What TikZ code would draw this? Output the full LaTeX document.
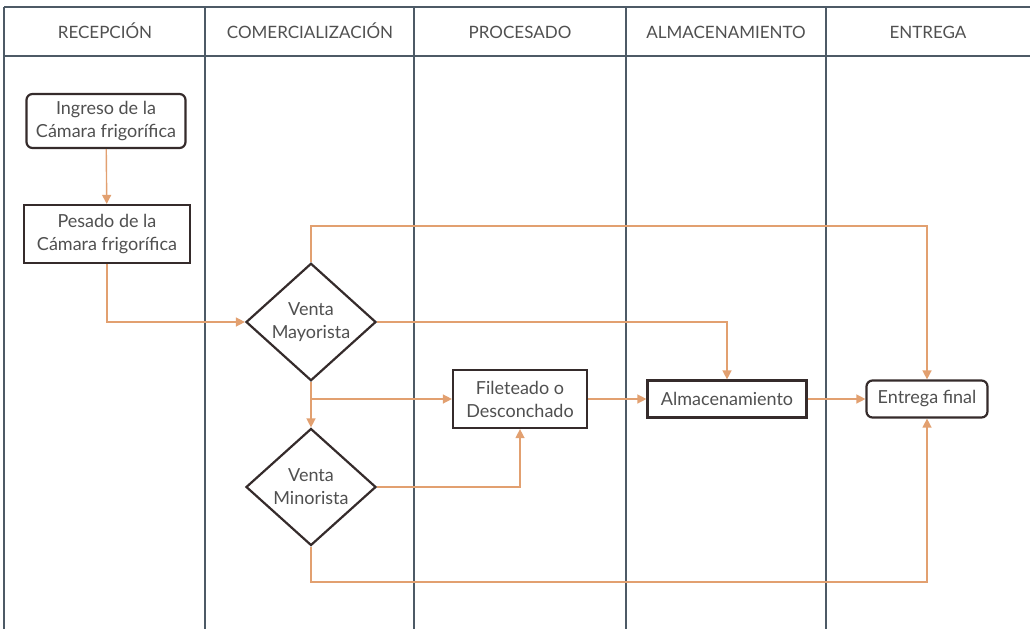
\documentclass[tikz,border=0pt]{standalone}
\usepackage{fontspec}
\setmainfont{Lato}
\usetikzlibrary{shapes.geometric,arrows.meta,positioning}
\definecolor{flowline}{HTML}{E2A070}
\definecolor{boxline}{HTML}{352B2B}
\definecolor{laneline}{HTML}{4D5A66}
\definecolor{labeltext}{HTML}{505050}
\tikzset{
  lane/.style={draw=laneline, line width=1.4pt},
  lanetitle/.style={text=labeltext, anchor=base, font=\fontsize{17}{20}\selectfont},
  process/.style={draw=boxline, line width=2.2pt, fill=white, align=center,
    text=labeltext, inner sep=0pt, font=\fontsize{18}{23}\selectfont},
  terminal/.style={process, rounded corners=6pt},
  decision/.style={process, diamond, minimum width=130pt, minimum height=117pt},
  flow/.style={draw=flowline, line width=1.4pt, -{Triangle[length=9pt,width=9pt]}}
}
\begin{document}
\begin{tikzpicture}[x=1pt, y=-1pt]
    \useasboundingbox (0,0) rectangle (1030,629);
    % draw the lanes
    \draw[lane] (4,7) -- (1030,7);
    \draw[lane] (4,56) -- (1030,56);
    \foreach \xlane in {4,205,414,626,826}
        \draw[lane] (\xlane,7) -- (\xlane,629);

    % the lane titles
    \node[lanetitle] (tRecep) at (105,38) {RECEPCIÓN};
    \node[lanetitle] (tComer) at (310,38) {COMERCIALIZACIÓN};
    \node[lanetitle] (tProc) at (520,38) {PROCESADO};
    \node[lanetitle] (tAlm) at (726,38) {ALMACENAMIENTO};
    \node[lanetitle] (tEnt) at (928,38) {ENTREGA};

    % the steps of the process
    \node[terminal, minimum width=159pt, minimum height=54pt] (ingreso) at (106,121)
        {Ingreso de la\\Cámara frigorífica};
    \node[process, minimum width=166pt, minimum height=58pt] (pesado) at (107,234)
        {Pesado de la\\Cámara frigorífica};
    \node[decision] (mayor) at (311,322) {Venta\\Mayorista};
    \node[decision] (minor) at (311,487) {Venta\\Minorista};
    \node[process, minimum width=134pt, minimum height=58pt] (filet) at (520,399)
        {Fileteado o\\Desconchado};
    \node[process, minimum width=159pt, minimum height=37pt] (almac) at (727,399)
        {Almacenamiento};
    \node[terminal, minimum width=121pt, minimum height=37pt] (entrega) at (927,399)
        {Entrega final};

    % points where the lines turn or split
    \coordinate (topbus) at (311,226);
    \coordinate (split) at (311,399);
    \coordinate (botbus) at (311,582);

    % draw the arrows
    \draw[flow] (ingreso) -- (pesado);
    \draw[flow] (pesado.south) |- (mayor.west);
    \draw[flow] (mayor.north) -- (topbus) -| (entrega.north);
    \draw[flow] (mayor.east) -| (almac.north);
    \draw[flow] (mayor) -- (minor);
    \draw[flow] (split) -- (filet.west);
    \draw[flow] (minor.east) -| (filet.south);
    \draw[flow] (filet) -- (almac);
    \draw[flow] (almac) -- (entrega);
    \draw[flow] (minor.south) -- (botbus) -| (entrega.south);
\end{tikzpicture}
\end{document}
